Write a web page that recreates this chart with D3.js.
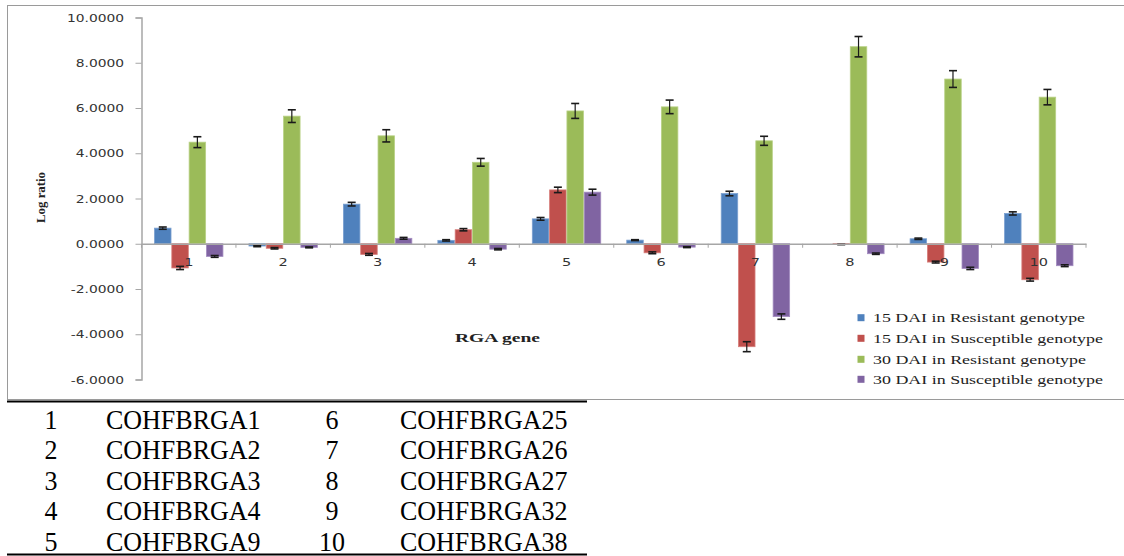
<!DOCTYPE html>
<html><head><meta charset="utf-8">
<script src="https://cdn.jsdelivr.net/npm/d3@7"></script>
<style>
html,body{margin:0;padding:0;background:#fff;}
svg{display:block;}
</style></head>
<body>
<svg id="chart" width="1124" height="556"></svg>
<script>
// ---- data ----
const categories = ["1","2","3","4","5","6","7","8","9","10"];
const seriesNames = ["15 DAI in Resistant genotype","15 DAI in Susceptible genotype","30 DAI in Resistant genotype","30 DAI in Susceptible genotype"];
const r15 = [0.69,-0.10,1.75,0.15,1.10,0.16,2.22,0.00,0.22,1.34];
const s15 = [-1.07,-0.20,-0.47,0.62,2.38,-0.40,-4.55,-0.03,-0.81,-1.59];
const r30 = [4.49,5.64,4.77,3.60,5.87,6.05,4.55,8.71,7.28,6.48];
const s30 = [-0.56,-0.16,0.24,-0.24,2.28,-0.15,-3.22,-0.44,-1.09,-0.97];
const eR15 = [0.05,0.03,0.08,0.03,0.06,0.02,0.10,0.00,0.03,0.07];
const eS15 = [0.07,0.03,0.04,0.05,0.12,0.04,0.22,0.01,0.04,0.06];
const eR30 = [0.24,0.28,0.27,0.17,0.33,0.30,0.20,0.45,0.37,0.34];
const eS30 = [0.04,0.02,0.04,0.03,0.13,0.02,0.12,0.03,0.05,0.04];
const yTicks = [10,8,6,4,2,0,-2,-4,-6];
const tableNums = ["1","2","3","4","5","6","7","8","9","10"];
const tableGenes = ["COHFBRGA1","COHFBRGA2","COHFBRGA3","COHFBRGA4","COHFBRGA9","COHFBRGA25","COHFBRGA26","COHFBRGA27","COHFBRGA32","COHFBRGA38"];
const colors = ["#4F81BD","#C0504D","#9BBB59","#8064A2"];
const strokes = ["#7BA0D0","#D77E7B","#B9D186","#A38CC0"];

(function(){
const values = [r15,s15,r30,s30];
const errors = [eR15,eS15,eR30,eS30];

const svg = d3.select("#chart");
const axisColor = "#A6A6A6";
const sx = 1.38; // horizontal stretch of axis fonts

// outer chart border
svg.append("rect").attr("x",7.5).attr("y",5.5).attr("width",1130).attr("height",394)
  .attr("fill","none").attr("stroke","#9a9a9a").attr("stroke-width",1);

const pL = 141.5, pR = 1086, pT = 17.5, pB = 379.5;
const y = d3.scaleLinear().domain([-6,10]).range([pB, pT]);
const x0 = d3.scaleBand().domain(categories).range([pL, pR]).padding(0);
const groupW = x0.bandwidth()*0.733;
const x1 = d3.scaleBand().domain(d3.range(4))
  .range([(x0.bandwidth()-groupW)/2, (x0.bandwidth()+groupW)/2]).padding(0);

// y axis
const yAxis = d3.axisLeft(y).tickValues(yTicks).tickSize(6).tickPadding(0)
  .tickFormat(d => d.toFixed(4));
const gy = svg.append("g").attr("transform",`translate(${pL},0)`).call(yAxis);
gy.select(".domain").attr("stroke",axisColor).attr("stroke-width",1.5);
gy.selectAll(".tick line").attr("stroke",axisColor).attr("stroke-width",1);
gy.selectAll(".tick text")
  .attr("font-family","DejaVu Sans, Verdana, sans-serif").attr("font-size",10)
  .attr("fill","#333")
  .attr("x", -17.5/sx).attr("dy","0.35em")
  .attr("transform",`scale(${sx},1)`);

// bars
const groups = svg.append("g").selectAll("g").data(categories).join("g")
  .attr("transform", d => `translate(${x0(d)},0)`);
groups.each(function(cat, ci){
  const g = d3.select(this);
  for (let s=0;s<4;s++){
    const v = values[s][ci];
    if (v === 0) continue;
    g.append("rect")
      .attr("x", x1(s)+0.4).attr("width", x1.bandwidth()-0.8)
      .attr("y", y(Math.max(0,v))).attr("height", Math.max(0.8, Math.abs(y(v)-y(0))))
      .attr("fill", colors[s]).attr("stroke", strokes[s]).attr("stroke-width",0.8);
  }
});

// x axis at zero
const xAxis = d3.axisBottom(x0).tickSize(0).tickFormat(d=>d);
const gx = svg.append("g").attr("transform",`translate(0,${y(0)})`).call(xAxis);
gx.select(".domain").attr("stroke",axisColor).attr("stroke-width",1.5);
gx.selectAll(".tick text")
  .attr("font-family","DejaVu Sans, Verdana, sans-serif").attr("font-size",10.5)
  .attr("fill","#333").attr("y",19).attr("dy","0.35em")
  .attr("transform",`scale(${sx},1)`);
// boundary tick marks
svg.append("g").selectAll("line").data(d3.range(categories.length+1)).join("line")
  .attr("x1", i => pL + i*x0.step()).attr("x2", i => pL + i*x0.step())
  .attr("y1", y(0)).attr("y2", y(0)+4)
  .attr("stroke",axisColor).attr("stroke-width",1);

// error bars
groups.each(function(cat, ci){
  const g = d3.select(this);
  for (let s=0;s<4;s++){
    const v = values[s][ci], e = errors[s][ci];
    if (v === 0) continue;
    const cx = x1(s) + x1.bandwidth()/2;
    const y1 = y(v+e), y2 = y(v-e);
    g.append("line").attr("x1",cx).attr("x2",cx).attr("y1",y1).attr("y2",y2)
      .attr("stroke","#1a1a1a").attr("stroke-width",1.2);
    [y1,y2].forEach(yy => g.append("line").attr("x1",cx-4).attr("x2",cx+4)
      .attr("y1",yy).attr("y2",yy).attr("stroke","#1a1a1a").attr("stroke-width",1.6));
  }
});

// axis titles
svg.append("text").attr("transform","translate(45,197.5) rotate(-90)")
  .attr("text-anchor","middle").attr("font-family","Liberation Serif, Times New Roman, serif")
  .attr("font-size",12.5).attr("font-weight","bold").attr("fill","#222")
  .attr("textLength",51).attr("lengthAdjust","spacingAndGlyphs").text("Log ratio");
svg.append("text").attr("x",455).attr("y",342.3)
  .attr("font-family","Liberation Serif, Times New Roman, serif")
  .attr("font-size",13.5).attr("font-weight","bold").attr("fill","#222")
  .attr("textLength",85).attr("lengthAdjust","spacingAndGlyphs").text("RGA gene");

// legend
const legLens = [212,230,213,230];
const legY = [317.7,338.3,359.3,379.3];
const leg = svg.append("g").selectAll("g").data(seriesNames).join("g")
  .attr("transform",(d,i)=>`translate(857.5,${legY[i]})`);
leg.append("rect").attr("x",0).attr("y",-3.5).attr("width",7).attr("height",7)
  .attr("fill",(d,i)=>colors[i]);
leg.append("text").attr("x",15.5).attr("dy","0.33em")
  .attr("font-family","Liberation Serif, Times New Roman, serif").attr("font-size",13.5)
  .attr("fill","#222")
  .attr("textLength",(d,i)=>legLens[i]).attr("lengthAdjust","spacingAndGlyphs")
  .text(d=>d);

// table below
svg.append("line").attr("x1",7).attr("x2",587).attr("y1",401.5).attr("y2",401.5)
  .attr("stroke","#000").attr("stroke-width",2);
svg.append("line").attr("x1",7).attr("x2",587).attr("y1",554.5).attr("y2",554.5)
  .attr("stroke","#000").attr("stroke-width",2);
const tFont = "Liberation Serif, Times New Roman, serif";
const tg = svg.append("g");
function cell(txt, x, by, anchor){
  tg.append("text").attr("transform",`translate(${x},${by}) scale(1,1.08)`)
    .attr("text-anchor",anchor).attr("font-family",tFont).attr("font-size",26)
    .attr("fill","#000").text(txt);
}
d3.range(5).forEach(i => {
  const by = 428.5 + i*30.5;
  cell(tableNums[i], 51, by, "middle");
  cell(tableGenes[i], 106, by, "start");
  cell(tableNums[i+5], 332, by, "middle");
  cell(tableGenes[i+5], 400, by, "start");
});
})();
</script>
</body></html>
